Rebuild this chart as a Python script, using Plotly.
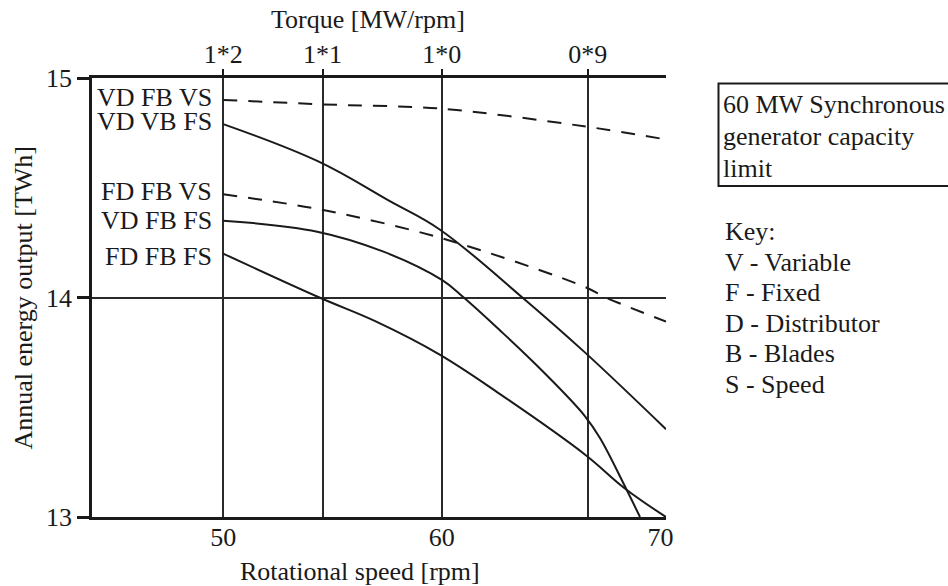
import plotly.graph_objects as go

# ---------------- data ----------------
rpm_vdfbvs = [50, 54.5, 60, 66.5, 70.25]
e_vdfbvs = [14.90, 14.88, 14.86, 14.78, 14.72]

rpm_vdvbfs = [50, 54.35, 57.6, 59.9, 63.8, 66.54, 70.25]
e_vdvbfs = [14.79, 14.62, 14.44, 14.31, 13.99, 13.75, 13.40]

rpm_fdfbvs = [50, 54.5, 60, 66.5, 67.5, 70.25]
e_fdfbvs = [14.47, 14.40, 14.27, 14.05, 14.00, 13.89]

rpm_vdfbfs = [50, 54.3, 57.3, 60, 61, 62.66, 64.6, 66.54, 67.23, 68.37, 69.06]
e_vdfbfs = [14.35, 14.30, 14.21, 14.08, 14.00, 13.85, 13.665, 13.46, 13.36, 13.14, 13.00]

rpm_fdfbfs = [50, 54.4, 57, 59.9, 62.66, 66.54, 68.37, 70.25]
e_fdfbfs = [14.20, 14.00, 13.89, 13.74, 13.56, 13.285, 13.13, 13.00]

speed_ticks = [50, 60, 70]
energy_ticks = [13, 14, 15]
rated_power_mw = 60
torque_vals = [1.2, 1.1, 1.0, 0.9]
torque_labels = ["1*2", "1*1", "1*0", "0*9"]
torque_pos = [rated_power_mw / t for t in torque_vals]

curve_labels = ["VD FB VS", "VD VB FS", "FD FB VS", "VD FB FS", "FD FB FS"]
box_lines = ["60 MW Synchronous", "generator capacity", "limit"]
key_lines = ["Key:", "V - Variable", "F - Fixed", "D - Distributor", "B - Blades", "S - Speed"]

# ---------------- layout geometry ----------------
W, H = 948, 586
ML, MR, MT, MB = 92, 282, 78, 69
PW = W - ML - MR
PH = H - MT - MB


def px(x):
    return (x - ML) / PW


def py(y):
    return (H - MB - y) / PH


FONT = "'Liberation Serif', 'Times New Roman', serif"
FS = 26
INK = "#1a1a1a"
GRID = "#2a2a2a"

fig = go.Figure()

solid = dict(color=INK, width=2, shape="spline", smoothing=1.1)
dashed = dict(color=INK, width=2, dash="14px,11px", shape="spline", smoothing=0.9)

fig.add_trace(go.Scatter(x=rpm_vdfbvs, y=e_vdfbvs, mode="lines", line=dashed,
                         xaxis="x2", yaxis="y", name=curve_labels[0]))
fig.add_trace(go.Scatter(x=rpm_vdvbfs, y=e_vdvbfs, mode="lines", line=solid, name=curve_labels[1]))
fig.add_trace(go.Scatter(x=rpm_fdfbvs, y=e_fdfbvs, mode="lines", line=dashed, name=curve_labels[2]))
fig.add_trace(go.Scatter(x=rpm_vdfbfs, y=e_vdfbfs, mode="lines", line=solid, name=curve_labels[3]))
fig.add_trace(go.Scatter(x=rpm_fdfbfs, y=e_fdfbfs, mode="lines", line=solid, name=curve_labels[4]))

xr = [44, 70.25]

annotations = []
# curve labels (right-aligned, left of the 50 rpm line)
label_y = [97.5, 121.5, 191.5, 220, 256.5]
for txt, yy in zip(curve_labels, label_y):
    annotations.append(dict(text=txt, xref="paper", yref="paper", x=px(214), y=py(yy),
                            xanchor="right", yanchor="middle", showarrow=False,
                            font=dict(family=FONT, size=FS, color=INK)))
# capacity box text
for txt, yy in zip(box_lines, [104, 136, 168]):
    annotations.append(dict(text=txt, xref="paper", yref="paper", x=px(721), y=py(yy),
                            xanchor="left", yanchor="middle", showarrow=False,
                            font=dict(family=FONT, size=FS, color=INK)))
# key
for i, txt in enumerate(key_lines):
    annotations.append(dict(text=txt, xref="paper", yref="paper", x=px(723), y=py(231.5 + 30.6 * i),
                            xanchor="left", yanchor="middle", showarrow=False,
                            font=dict(family=FONT, size=FS, color=INK)))
# axis titles
annotations.append(dict(text="Rotational speed [rpm]", xref="paper", yref="paper",
                        x=px(360), y=py(571), xanchor="center", yanchor="middle", showarrow=False,
                        font=dict(family=FONT, size=FS, color=INK)))
annotations.append(dict(text="Torque [MW/rpm]", xref="paper", yref="paper",
                        x=px(368), y=py(19), xanchor="center", yanchor="middle", showarrow=False,
                        font=dict(family=FONT, size=FS, color=INK)))
annotations.append(dict(text="Annual energy output [TWh]", xref="paper", yref="paper",
                        x=px(23), y=py(297.5), xanchor="center", yanchor="middle", showarrow=False,
                        textangle=-90, font=dict(family=FONT, size=FS, color=INK)))

shapes = [dict(type="rect", xref="paper", yref="paper", x0=px(718.5), x1=px(970),
               y0=py(186), y1=py(83.5), line=dict(color=INK, width=2), fillcolor="rgba(0,0,0,0)")]

fig.update_layout(
    width=W, height=H,
    margin=dict(l=ML, r=MR, t=MT, b=MB, pad=0),
    paper_bgcolor="white", plot_bgcolor="white",
    showlegend=False,
    font=dict(family=FONT, size=FS, color=INK),
    xaxis=dict(range=xr, tickvals=speed_ticks, showgrid=False, zeroline=False,
               showline=True, linecolor=INK, linewidth=2.5,
               ticks="", ticklabelstandoff=-5,
               tickfont=dict(family=FONT, size=FS, color=INK)),
    xaxis2=dict(range=xr, overlaying="x", side="top", anchor="y",
                tickvals=torque_pos, ticktext=torque_labels,
                showgrid=True, gridcolor=GRID, gridwidth=2, zeroline=False,
                showline=True, linecolor=INK, linewidth=2.5,
                ticks="outside", ticklen=6, tickwidth=2, tickcolor=INK,
                ticklabelstandoff=-4,
                tickfont=dict(family=FONT, size=FS, color=INK)),
    yaxis=dict(range=[13, 15], tickvals=energy_ticks, showgrid=True, gridcolor=GRID, gridwidth=2,
               zeroline=False, showline=True, linecolor=INK, linewidth=2.5,
               ticks="outside", ticklen=12, tickwidth=2.5, tickcolor=INK,
               tickfont=dict(family=FONT, size=FS, color=INK)),
    annotations=annotations,
    shapes=shapes,
)

fig.write_html("out.html")
